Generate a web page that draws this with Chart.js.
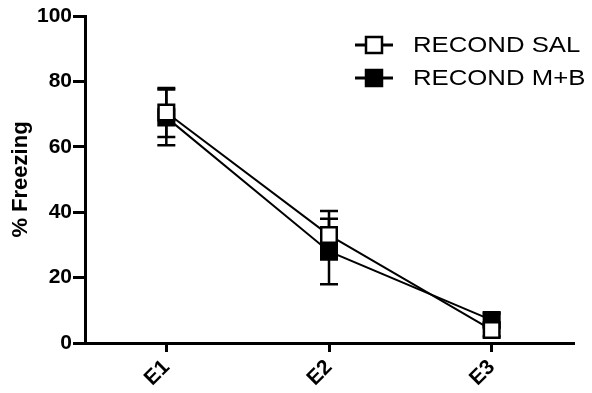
<!DOCTYPE html>
<html>
<head>
<meta charset="utf-8">
<script src="https://cdn.jsdelivr.net/npm/chart.js@4/dist/chart.umd.min.js"></script>
<style>
  html, body { margin: 0; padding: 0; background: #fff; }
  #wrap { width: 592px; height: 393px; }
</style>
</head>
<body>
<div id="wrap"><canvas id="c" width="592" height="393"></canvas></div>
<script>
const categories = ["E1", "E2", "E3"];
const salValues = [70.5, 33, 4];
const salErrors = [7.5, 7.4, 2];
const mbValues = [69, 28, 7];
const mbErrors = [8.5, 10, 2];
const yTicks = [0, 20, 40, 60, 80, 100];
const seriesLabels = ["RECOND SAL", "RECOND M+B"];

const FONT = '"Liberation Sans", Arial, Helvetica, sans-serif';

const errorBarPlugin = {
  id: 'errorBars',
  beforeDatasetsDraw(chart) {
    const ctx = chart.ctx;
    const ys = chart.scales.y;
    ctx.save();
    ctx.strokeStyle = '#000';
    ctx.lineWidth = 2.5;
    chart.data.datasets.forEach((ds, di) => {
      const meta = chart.getDatasetMeta(di);
      ds.errors.forEach((e, i) => {
        const pt = meta.data[i];
        const x = pt.x;
        const yTop = ys.getPixelForValue(ds.data[i] + e);
        const yBot = ys.getPixelForValue(ds.data[i] - e);
        ctx.beginPath();
        ctx.moveTo(x, yTop); ctx.lineTo(x, yBot);
        ctx.moveTo(x - 9, yTop); ctx.lineTo(x + 9, yTop);
        ctx.moveTo(x - 9, yBot); ctx.lineTo(x + 9, yBot);
        ctx.stroke();
      });
    });
    ctx.restore();
  }
};

const legendPlugin = {
  id: 'customLegend',
  afterDraw(chart) {
    const ctx = chart.ctx;
    ctx.save();
    const rows = [45, 78];
    chart.data.datasets.forEach((ds, i) => {
      const y = rows[i];
      const cx = 374;
      ctx.strokeStyle = '#000';
      ctx.lineWidth = 3;
      ctx.beginPath();
      ctx.moveTo(cx - 19, y); ctx.lineTo(cx + 19, y);
      ctx.stroke();
      ctx.fillStyle = ds.pointBackgroundColor;
      ctx.fillRect(cx - 8, y - 8, 16, 16);
      ctx.lineWidth = 2.5;
      ctx.strokeRect(cx - 8, y - 8, 16, 16);
      ctx.fillStyle = '#000';
      ctx.font = '22px ' + FONT;
      ctx.textBaseline = 'middle';
      ctx.textAlign = 'left';
      ctx.save();
      ctx.translate(413, y + 1);
      ctx.scale(1.17, 1);
      ctx.fillText(ds.label, 0, 0);
      ctx.restore();
    });
    ctx.restore();
  }
};

new Chart(document.getElementById('c'), {
  type: 'line',
  data: {
    labels: categories,
    datasets: [
      {
        label: seriesLabels[0],
        data: salValues,
        errors: salErrors,
        borderColor: '#000',
        borderWidth: 2,
        pointStyle: 'rect',
        pointRadius: 11,
        pointBorderWidth: 2.5,
        pointBorderColor: '#000',
        pointBackgroundColor: '#fff',
        tension: 0
      },
      {
        label: seriesLabels[1],
        data: mbValues,
        errors: mbErrors,
        borderColor: '#000',
        borderWidth: 2,
        pointStyle: 'rect',
        pointRadius: 11,
        pointBorderWidth: 2.5,
        pointBorderColor: '#000',
        pointBackgroundColor: '#000',
        tension: 0
      }
    ]
  },
  options: {
    responsive: false,
    animation: false,
    devicePixelRatio: 1,
    layout: { padding: { top: 16, right: 19, bottom: 0, left: 0 } },
    plugins: {
      legend: { display: false },
      tooltip: { enabled: false }
    },
    scales: {
      x: {
        offset: true,
        afterFit(scale) { scale.height = 50; },
        grid: { display: true, drawOnChartArea: false, drawTicks: true, tickLength: 9, lineWidth: 3, color: '#000', offset: false },
        border: { display: true, color: '#000', width: 3 },
        ticks: {
          color: '#000',
          font: { family: FONT, size: 21, weight: 'bold' },
          minRotation: 45,
          maxRotation: 45,
          padding: 3
        }
      },
      y: {
        min: 0,
        max: 100,
        afterFit(scale) { scale.width = 85; },
        afterBuildTicks(scale) { scale.ticks = yTicks.map(v => ({ value: v })); },
        grid: { display: true, drawOnChartArea: false, drawTicks: true, tickLength: 12, lineWidth: 3, color: '#000' },
        border: { display: true, color: '#000', width: 3 },
        title: {
          display: true,
          text: '% Freezing',
          color: '#000',
          font: { family: FONT, size: 22, weight: 'bold' },
          padding: { top: 8, bottom: 4 }
        },
        ticks: {
          color: '#000',
          font: { family: FONT, size: 21, weight: 'bold' },
          padding: 1
        }
      }
    }
  },
  plugins: [errorBarPlugin, legendPlugin]
});
</script>
</body>
</html>
